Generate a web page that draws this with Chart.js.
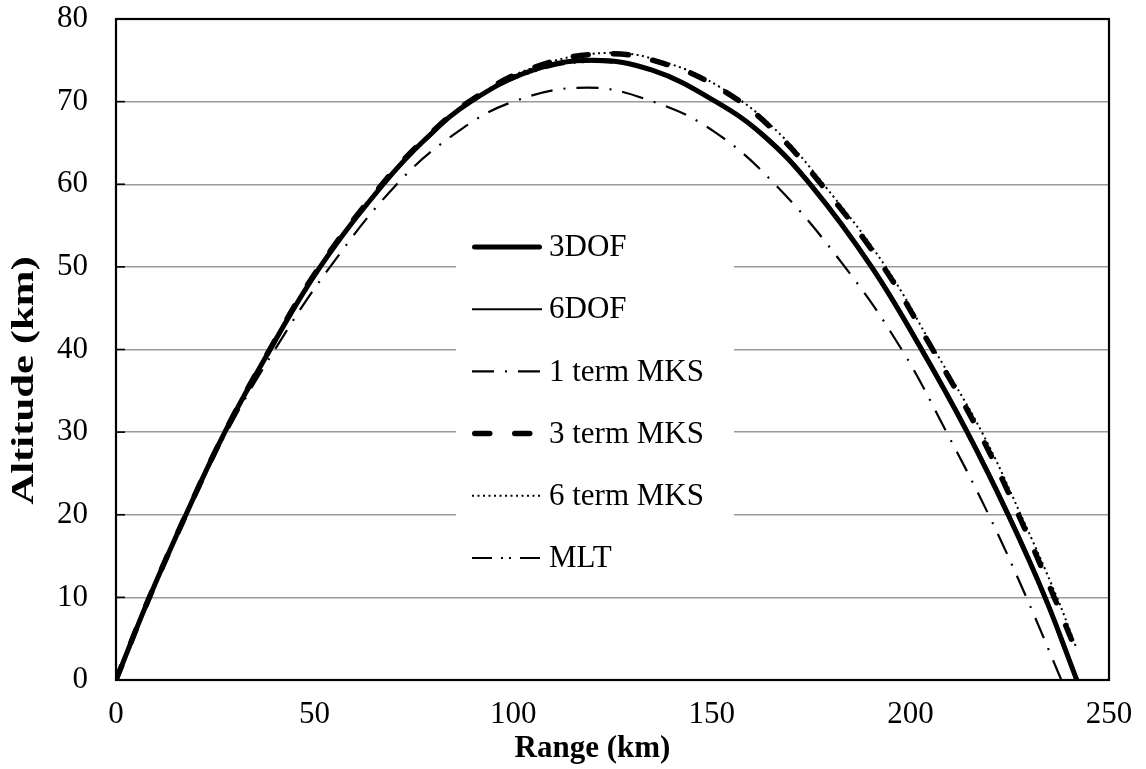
<!DOCTYPE html>
<html>
<head>
<meta charset="utf-8">
<script src="https://cdn.jsdelivr.net/npm/chart.js@4/dist/chart.umd.min.js"></script>
<style>
  html, body { margin: 0; padding: 0; background: #fff; }
  #wrap { width: 1146px; height: 769px; }
</style>
</head>
<body>
<div id="wrap"><canvas id="traj" width="1146" height="769"></canvas></div>
<script>
// Trajectory data: range (km) and altitude (km) for each model
const threeDofRange = [0, 8.4, 17.6, 27.4, 38.8, 51.4, 67.3, 78, 89.3, 105, 120, 135, 151, 163, 175.1, 190.2, 202.8, 214.3, 224.6, 233.9, 241.9];
const threeDofAlt   = [0, 10, 20, 30, 40, 50, 60, 65.5, 70, 73.8, 75.0, 73.8, 70, 65.9, 59.8, 50, 40, 30, 20, 10, 0];

const sixDofRange = [0, 8.4, 17.6, 27.4, 38.8, 51.4, 67.3, 78, 89.4, 105, 120.5, 135.5, 151.4, 163.5, 175.5, 190.6, 203.2, 214.7, 225, 234.2, 242.1];
const sixDofAlt   = [0, 10, 20, 30, 40, 50, 60, 65.5, 70, 73.8, 74.9, 73.8, 70, 65.9, 59.8, 50, 40, 30, 20, 10, 0];

const oneTermRange = [0, 8.4, 17.7, 27.9, 40, 53.9, 70.7, 85, 100, 118.6, 135.2, 150.5, 165.9, 183.5, 197.8, 209.1, 219.7, 229.2, 238.0];
const oneTermAlt   = [0, 10, 20, 30, 40, 50, 60, 66.0, 70, 71.7, 70, 66.4, 60, 50, 40, 30, 20, 10, 0];

const threeTermRange = [0, 8.4, 17.6, 27.4, 38.7, 51.2, 67.0, 78, 89.5, 105, 123, 138, 152, 165, 177.7, 193.2, 205.6, 217.3, 227.2, 236.2, 240.8];
const threeTermAlt   = [0, 10, 20, 30, 40, 50, 60, 65.6, 70.2, 74.1, 75.8, 74.6, 71.6, 66.8, 59.9, 50, 40, 30, 20, 10, 4.6];

const sixTermRange = [0, 8.4, 17.6, 27.4, 38.7, 51.2, 67.0, 78, 89.5, 105, 123.5, 138.6, 152.6, 165.6, 178.3, 193.8, 206.0, 218.0, 227.8, 236.9, 241.7];
const sixTermAlt   = [0, 10, 20, 30, 40, 50, 60, 65.6, 70.2, 74.1, 75.9, 74.7, 71.6, 66.8, 59.9, 50, 40, 30, 20, 10, 4.0];

const mltRange = [0, 8.4, 17.6, 27.4, 38.9, 51.5, 67.5, 78.2, 89.6, 105, 120, 135, 150.9, 163, 174.9, 190, 202.5, 214, 224.3, 233.6, 241.6];
const mltAlt   = [0, 10, 20, 30, 40, 50, 60, 65.4, 70, 73.6, 74.8, 73.7, 70, 65.8, 59.8, 50, 40, 30, 20, 10, 0];

const seriesNames = ['3DOF', '6DOF', '1 term MKS', '3 term MKS', '6 term MKS', 'MLT'];
const rangeTicks = [0, 50, 100, 150, 200, 250];
const altitudeTicks = [0, 10, 20, 30, 40, 50, 60, 70, 80];
const xTitle = 'Range (km)';
const yTitle = 'Altitude (km)';

const FONT = "'Liberation Serif', 'Times New Roman', serif";

function pts(xs, ys) { return xs.map((x, i) => ({ x: x, y: ys[i] })); }

// line styles per series
const styles = [
  { width: 5,   dash: [],               cap: 'round' },
  { width: 2,   dash: [],               cap: 'butt'  },
  { width: 2.2, dash: [22, 11, 2, 11],  cap: 'butt'  },
  { width: 5.5, dash: [15, 25],         cap: 'round' },
  { width: 2,   dash: [2, 3.5],         cap: 'butt'  },
  { width: 2.2, dash: [20, 9, 2, 6, 2, 9], cap: 'butt' }
];

const seriesData = [
  pts(threeDofRange, threeDofAlt),
  pts(sixDofRange, sixDofAlt),
  pts(oneTermRange, oneTermAlt),
  pts(threeTermRange, threeTermAlt),
  pts(sixTermRange, sixTermAlt),
  pts(mltRange, mltAlt)
];

// draw order: thin lines first, heavy lines on top
const drawOrder = [5, 4, 0, 3, 1, 2];

const datasets = seriesNames.map((name, i) => ({
  label: name,
  data: seriesData[i],
  showLine: true,
  borderColor: '#000',
  backgroundColor: '#000',
  borderWidth: styles[i].width,
  borderDash: styles[i].dash,
  borderCapStyle: styles[i].cap,
  pointRadius: 0,
  pointHoverRadius: 0,
  fill: false,
  tension: 0.4,
  order: drawOrder[i]
}));

// frame around the plot area plus inward ticks on the altitude axis
const framePlugin = {
  id: 'frame',
  beforeDatasetsDraw(chart) {
    const { ctx, chartArea: a, scales } = chart;
    ctx.save();
    ctx.strokeStyle = '#000';
    ctx.lineWidth = 1.6;
    altitudeTicks.forEach(v => {
      const y = scales.y.getPixelForValue(v);
      ctx.beginPath();
      ctx.moveTo(a.left, y);
      ctx.lineTo(a.left + 9, y);
      ctx.stroke();
    });
    ctx.lineWidth = 2.2;
    ctx.strokeRect(a.left, a.top, a.right - a.left, a.bottom - a.top);
    ctx.restore();
  }
};

// axis titles
const titlePlugin = {
  id: 'axisTitles',
  afterDraw(chart) {
    const { ctx, chartArea: a } = chart;
    ctx.save();
    ctx.fillStyle = '#000';
    ctx.font = 'bold 31px ' + FONT;
    ctx.textAlign = 'center';
    ctx.textBaseline = 'middle';
    ctx.fillText(xTitle, (a.left + a.right) / 2 - 20, 749);
    ctx.translate(25, (a.top + a.bottom) / 2 + 31);
    ctx.rotate(-Math.PI / 2);
    ctx.scale(1.38, 1);
    ctx.fillText(yTitle, 0, 0);
    ctx.restore();
  }
};

// legend box drawn inside the plot area
const legendPlugin = {
  id: 'innerLegend',
  afterDatasetsDraw(chart) {
    const { ctx, chartArea: a } = chart;
    const boxL = a.left + 340, boxT = a.top + 197, boxW = 278, boxH = 372;
    const row0 = a.top + 228, rowGap = 62.2;
    const lineL = a.left + 356, lineR = a.left + 426, textX = a.left + 433;
    ctx.save();
    ctx.fillStyle = '#fff';
    ctx.fillRect(boxL, boxT, boxW, boxH);
    seriesNames.forEach((name, i) => {
      const y = row0 + i * rowGap;
      const s = styles[i];
      ctx.strokeStyle = '#000';
      ctx.lineWidth = s.width;
      ctx.lineCap = s.cap;
      ctx.setLineDash(s.dash);
      ctx.beginPath();
      const inset = s.cap === 'round' ? s.width / 2 : 0;
      ctx.moveTo(lineL + inset, y);
      ctx.lineTo(lineR - inset, y);
      ctx.stroke();
      ctx.setLineDash([]);
      ctx.fillStyle = '#000';
      ctx.font = '31px ' + FONT;
      ctx.textBaseline = 'middle';
      ctx.textAlign = 'left';
      ctx.fillText(name, textX, y + 1);
    });
    ctx.restore();
  }
};

new Chart(document.getElementById('traj'), {
  type: 'scatter',
  data: { datasets: datasets },
  options: {
    responsive: false,
    animation: false,
    devicePixelRatio: 1,
    layout: { padding: { top: 19, right: 37, left: 0, bottom: 0 } },
    plugins: {
      legend: { display: false },
      tooltip: { enabled: false }
    },
    scales: {
      x: {
        type: 'linear',
        min: 0, max: 250,
        afterBuildTicks: s => { s.ticks = rangeTicks.map(v => ({ value: v })); },
        ticks: { color: '#000', font: { family: FONT, size: 31 }, padding: 16, maxRotation: 0 },
        grid: { display: false, drawTicks: false },
        border: { display: false },
        title: { display: false },
        afterFit: s => { s.height = 89; s.paddingLeft = 0; s.paddingRight = 0; }
      },
      y: {
        type: 'linear',
        min: 0, max: 80,
        afterBuildTicks: s => { s.ticks = altitudeTicks.map(v => ({ value: v })); },
        ticks: { color: '#000', font: { family: FONT, size: 31 }, padding: 28 },
        grid: {
          drawTicks: false,
          lineWidth: 1.5,
          color: ctx => (ctx.tick && (ctx.tick.value === 0 || ctx.tick.value === 80)) ? 'rgba(0,0,0,0)' : '#9a9a9a'
        },
        border: { display: false },
        title: { display: false },
        afterFit: s => { s.width = 116; s.paddingTop = 0; s.paddingBottom = 0; }
      }
    }
  },
  plugins: [framePlugin, legendPlugin, titlePlugin]
});
</script>
</body>
</html>
